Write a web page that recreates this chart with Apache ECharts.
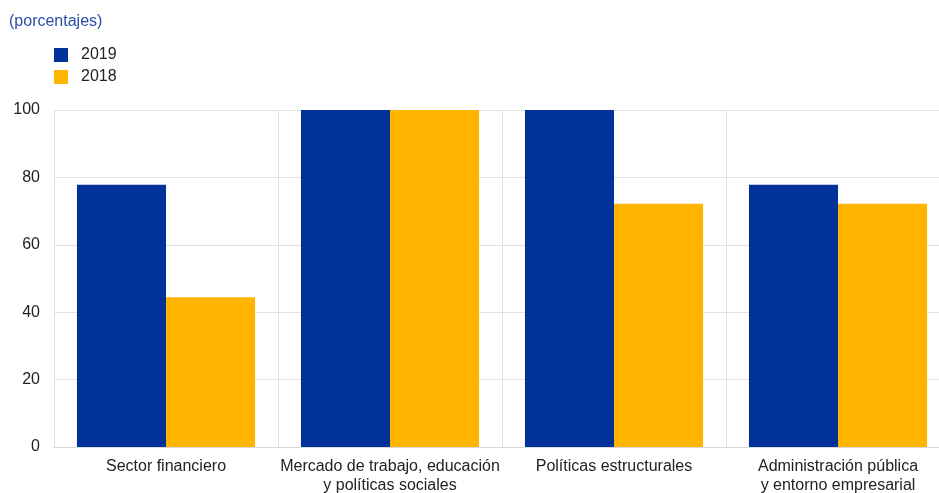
<!DOCTYPE html>
<html>
<head>
    <meta charset="utf-8" />
    <title>Gráfico de barras</title>
    <script src="https://cdn.jsdelivr.net/npm/echarts@6/dist/echarts.min.js"></script>
    <style type="text/css">
        html,
        body {
            width: 100%;
            height: 100%;
            margin: 0;
            background: #fff;
        }

        #main {
            width: 939px;
            height: 493px;
        }
    </style>
</head>
<body>
    <div id="main"></div>
    <script>
        var categories = [
            'Sector financiero',
            'Mercado de trabajo, educación\ny políticas sociales',
            'Políticas estructurales',
            'Administración pública\ny entorno empresarial'
        ];
        var values2019 = [77.8, 100, 100, 77.8];
        var values2018 = [44.4, 100, 72.2, 72.2];
        var yTicks = [0, 20, 40, 60, 80, 100];

        var font = 'Liberation Sans, Arial, sans-serif';
        var myChart = echarts.init(document.getElementById('main'));
        var option = {
            animation: false,
            textStyle: { fontFamily: font },
            title: {
                text: '(porcentajes)',
                left: 9,
                top: 14,
                padding: 0,
                textStyle: { color: '#2a4ea6', fontSize: 16, fontWeight: 'normal', fontFamily: font }
            },
            legend: {
                orient: 'vertical',
                left: 54,
                top: 46,
                padding: 0,
                itemWidth: 14,
                itemHeight: 14,
                itemGap: 4,
                icon: 'rect',
                textStyle: { color: '#222', fontSize: 16, lineHeight: 18, fontFamily: font, padding: [0, 0, 0, 8] },
                data: ['2019', '2018']
            },
            grid: {
                left: 54,
                top: 110,
                width: 896,
                bottom: 46,
                outerBoundsMode: 'none',
                containLabel: false
            },
            xAxis: {
                type: 'category',
                data: categories,
                axisTick: { show: false },
                axisLine: { lineStyle: { color: '#d9d9d9' } },
                splitLine: { show: true, lineStyle: { color: '#e0e0e0' } },
                axisLabel: { color: '#222', fontSize: 16, lineHeight: 19, margin: 10, interval: 0 }
            },
            yAxis: {
                type: 'value',
                min: yTicks[0],
                max: yTicks[yTicks.length - 1],
                interval: 20,
                axisLine: { show: false },
                axisTick: { show: false },
                splitLine: { lineStyle: { color: '#e0e0e0' } },
                axisLabel: { color: '#222', fontSize: 16, margin: 14 }
            },
            series: [
                {
                    name: '2019',
                    type: 'bar',
                    data: values2019,
                    barGap: '0%',
                    barCategoryGap: '20.5%',
                    itemStyle: { color: '#003299' }
                },
                {
                    name: '2018',
                    type: 'bar',
                    data: values2018,
                    itemStyle: { color: '#ffb400' }
                }
            ]
        };
        myChart.setOption(option);
    </script>
</body>
</html>
